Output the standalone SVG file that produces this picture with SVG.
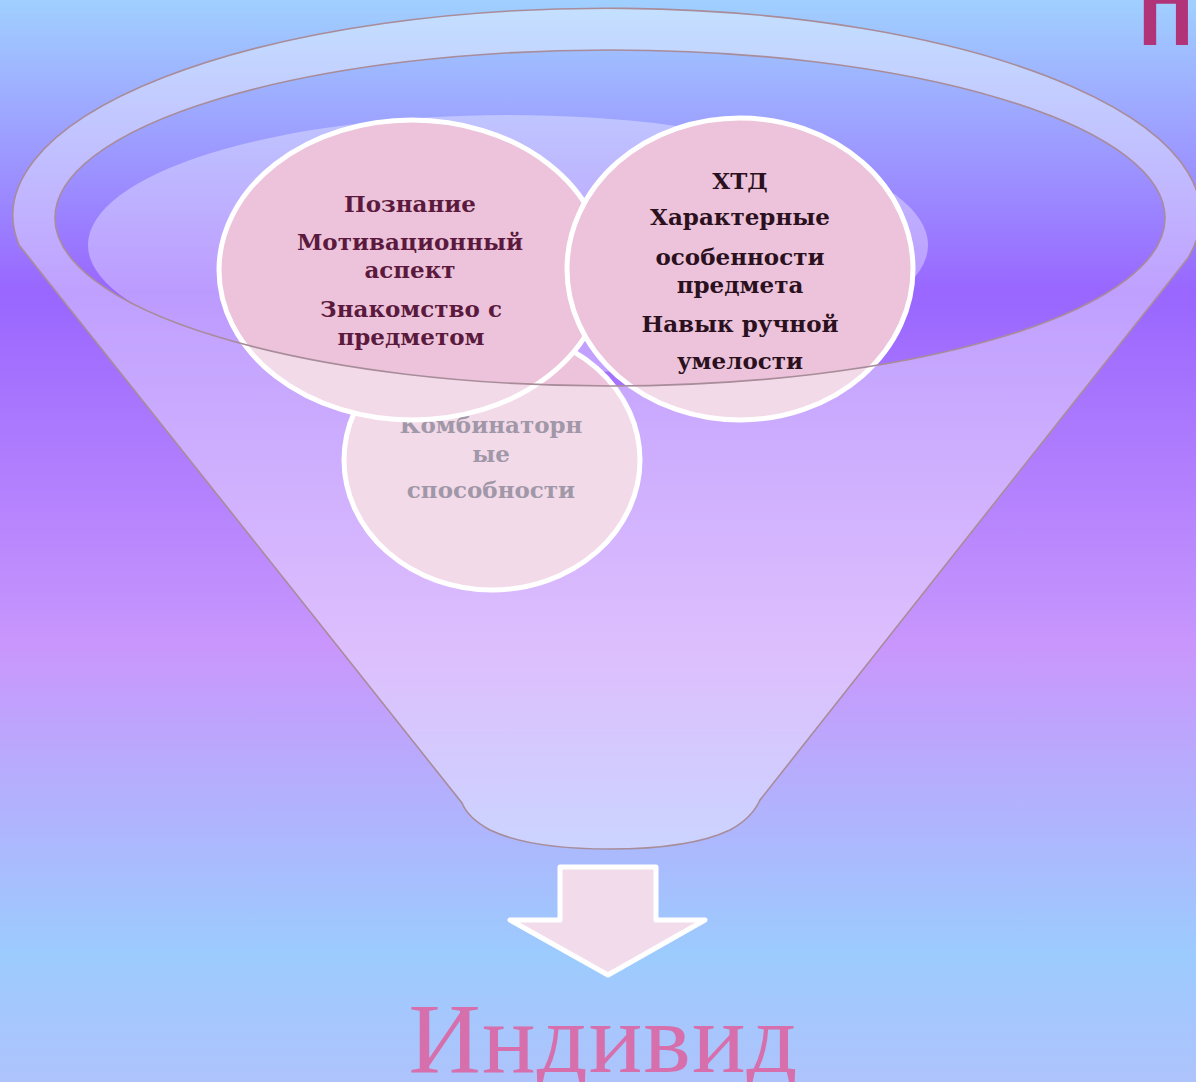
<svg xmlns="http://www.w3.org/2000/svg" width="1196" height="1082" viewBox="0 0 1196 1082">
  <defs>
    <linearGradient id="bg" x1="0" y1="0" x2="0" y2="1">
      <stop offset="0" stop-color="#a0d0ff"/>
      <stop offset="0.27" stop-color="#9966ff"/>
      <stop offset="0.6" stop-color="#c997fc"/>
      <stop offset="0.88" stop-color="#9ccbfe"/>
      <stop offset="1" stop-color="#aec3fc"/>
    </linearGradient>
    <clipPath id="opening">
      <ellipse cx="610" cy="218" rx="555" ry="168"/>
    </clipPath>
    <style>
      .bubble { fill: #ecc3da; stroke: #ffffff; stroke-width: 5; }
      .t { font-family: "DejaVu Serif", "Liberation Serif", serif; font-weight: bold; font-size: 23px; text-anchor: middle; }
      .t1 { fill: #5b1a3d; }
      .t2 { fill: #2b1020; }
      .t3 { fill: #665873; }
      .funnel { fill: #ffffff; fill-opacity: 0.38; fill-rule: evenodd; stroke: #a88c9a; stroke-width: 1.6; }
    </style>
  </defs>

  <rect x="0" y="0" width="1196" height="1082" fill="url(#bg)"/>

  <!-- liquid surface inside the opening -->
  <g id="surface">
    <ellipse cx="508" cy="245" rx="420" ry="130" fill="#ffffff" fill-opacity="0.35" clip-path="url(#opening)"/>
  </g>

  <g id="node-combinatorial">
    <ellipse class="bubble" cx="492" cy="460" rx="148" ry="130"/>
    <text class="t t3" x="491" y="433">Комбинаторн</text>
    <text class="t t3" x="491" y="462">ые</text>
    <text class="t t3" x="491" y="498">способности</text>
  </g>

  <g id="node-cognition">
    <ellipse class="bubble" cx="412" cy="270" rx="193" ry="150"/>
    <text class="t t1" x="410" y="212">Познание</text>
    <text class="t t1" x="410" y="250">Мотивационный</text>
    <text class="t t1" x="410" y="278">аспект</text>
    <text class="t t1" x="411" y="317">Знакомство с</text>
    <text class="t t1" x="411" y="345">предметом</text>
  </g>

  <g id="node-htd">
    <ellipse class="bubble" cx="740" cy="269" rx="173" ry="151"/>
    <text class="t t2" x="740" y="189">ХТД</text>
    <text class="t t2" x="740" y="225">Характерные</text>
    <text class="t t2" x="740" y="265">особенности</text>
    <text class="t t2" x="740" y="293">предмета</text>
    <text class="t t2" x="740" y="332">Навык ручной</text>
    <text class="t t2" x="740" y="369">умелости</text>
  </g>

  <g id="funnel">
    <path class="funnel" d="M 19,245 A 594 207 0 1 1 1188,258 L 760,800 Q 752,818 730,830 Q 690,849 610,849 Q 530,849 490,830 Q 468,818 462,803 Z M 55,218 A 555 168 0 1 0 1165,218 A 555 168 0 1 0 55,218 Z"/>
  </g>

  <g id="connectors">
    <polygon points="560,867 656,867 656,920 705,920 608,975 510,920 560,920" fill="#f2dcec" stroke="#ffffff" stroke-width="5" stroke-linejoin="round"/>
  </g>

  <g id="node-individual">
    <text x="603" y="1072" font-family="Liberation Serif, serif" font-size="100" fill="#d66fab" text-anchor="middle" textLength="389" lengthAdjust="spacing">Индивид</text>
  </g>

  <g id="corner-letter">
    <text x="1140" y="44" font-family="Liberation Sans, Arial, sans-serif" font-weight="bold" font-size="72" fill="#b13478" stroke="#b13478" stroke-width="2">П</text>
  </g>
</svg>
